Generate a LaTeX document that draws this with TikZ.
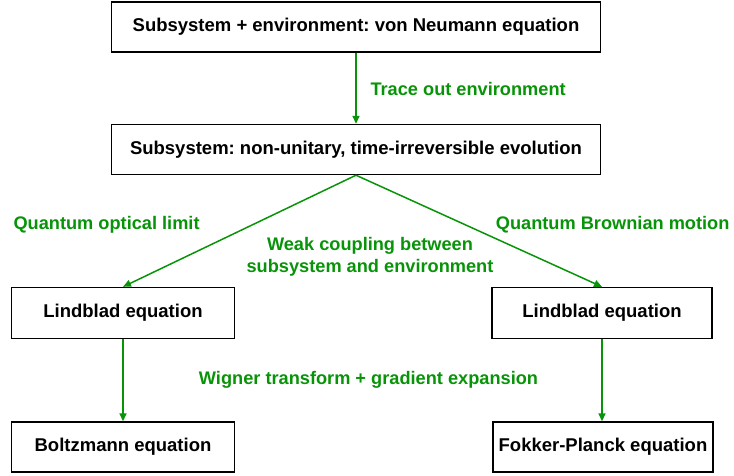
\documentclass[tikz,border=0pt]{standalone}
\usepackage{fontspec}
\setmainfont{Liberation Sans}
\usetikzlibrary{arrows.meta}
\definecolor{flowgreen}{RGB}{8,148,8}
\frenchspacing
\begin{document}
\begin{tikzpicture}[x=1pt,y=-1pt,
  eqbox/.style={draw=black,line width=1.4pt,fill=white,inner sep=0pt,
    font=\bfseries\fontsize{18.5}{21}\selectfont,align=center},
  flow/.style={draw=flowgreen,line width=1.5pt,-{Triangle[length=8pt,width=7pt]}},
  note/.style={text=flowgreen,font=\bfseries\fontsize{18.2}{22.5}\selectfont,align=center}]
\useasboundingbox (0,0) rectangle (734,475);
% equation boxes
\node[eqbox,minimum width=489pt,minimum height=50pt] (vn) at (356,27) {Subsystem + environment: von Neumann equation};
\node[eqbox,minimum width=489pt,minimum height=50pt] (sub) at (356,149.5) {Subsystem: non-unitary, time-irreversible evolution};
\node[eqbox,minimum width=223pt,minimum height=51pt] (lbl) at (123,313) {Lindblad equation};
\node[eqbox,minimum width=220pt,minimum height=51pt] (lbr) at (602,313) {Lindblad equation};
\node[eqbox,minimum width=223pt,minimum height=50pt] (bz) at (123,447) {Boltzmann equation};
\node[eqbox,minimum width=220pt,minimum height=50pt] (fp) at (603,447) {Fokker-Planck equation};
% connectors
\draw[flow] (vn.south) -- (sub.north);
\draw[flow] (sub.south) -- (lbl.north);
\draw[flow] (sub.south) -- (lbr.north);
\draw[flow] (lbl.south) -- (lbl.south |- bz.north);
\draw[flow] (lbr.south) -- (lbr.south |- fp.north);
% transition labels
\node[note,anchor=west] (trace) at (367,89) {Trace out environment};
\node[note,anchor=west] (optic) at (10,225) {Quantum optical limit};
\node[note,anchor=east] (brown) at (733,225) {Quantum Brownian motion};
\node[note] (weak) at (370,257) {Weak coupling between\\subsystem and environment};
\node[note] (wig) at (368.5,380) {Wigner transform + gradient expansion};
\end{tikzpicture}
\end{document}
